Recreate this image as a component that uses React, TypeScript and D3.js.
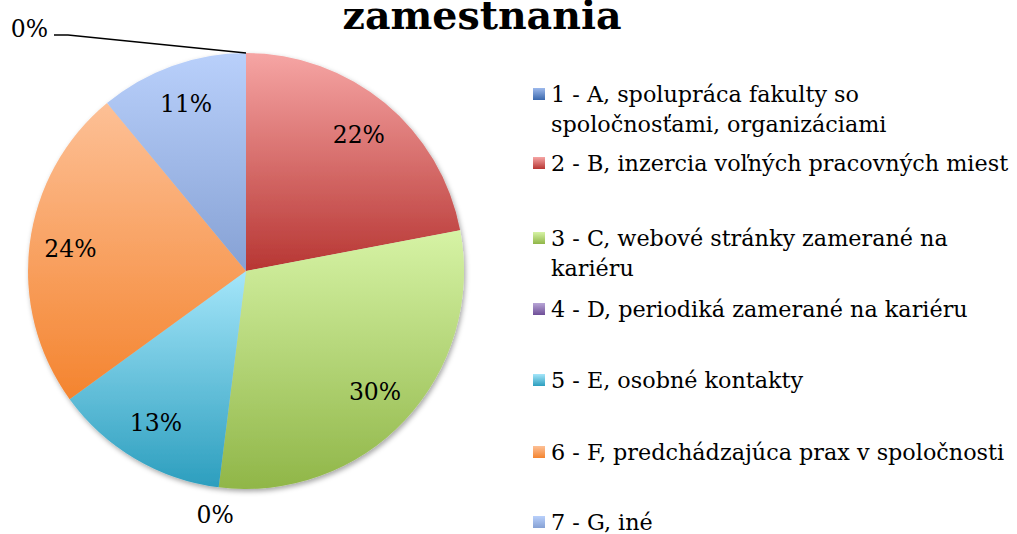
import React from "react";
import * as d3 from "d3";

// ---- data ----
const categories = [
  "1 - A, spolupráca fakulty so|spoločnosťami, organizáciami",
  "2 - B, inzercia voľných pracovných miest",
  "3 - C, webové stránky zamerané na|kariéru",
  "4 - D, periodiká zamerané na kariéru",
  "5 - E, osobné kontakty",
  "6 - F, predchádzajúca prax v spoločnosti",
  "7 - G, iné",
];
const values = [0, 22, 30, 0, 13, 24, 11];
const titleText = "zamestnania";

// ---- styles ----
const gradTop = ["#9DB9EC", "#F6A5A4", "#D6F3A5", "#B8A5D6", "#A5E6FA", "#FDC096", "#B9D0FB"];
const gradBottom = ["#3A68AD", "#B73633", "#90B648", "#6E4E97", "#2C9EBE", "#F4842F", "#86A1D4"];
const FONT = "'DejaVu Serif', serif";

const W = 1017, H = 534;
const cx = 246, cy = 271, R = 218;
const labelR = 177;
const legendX = 533;
const legendBaselines = [102, 171, 246, 317, 388, 460, 530];
const lineGap = 30;

export default function App() {
  const pie = d3.pie<number>().sort(null).value((d) => d).startAngle(0).endAngle(2 * Math.PI);
  const arcs = pie(values);
  const arc = d3.arc<d3.PieArcDatum<number>>().innerRadius(0).outerRadius(R);
  const labelArc = d3.arc<d3.PieArcDatum<number>>().innerRadius(labelR).outerRadius(labelR);
  const outerArc = d3.arc<d3.PieArcDatum<number>>().innerRadius(R + 28).outerRadius(R + 28);
  const total = d3.sum(values);
  const fmt = (v: number) => `${Math.round((v / total) * 100)}%`;

  return (
    <svg width={W} height={H} style={{ position: "absolute", left: 0, top: 0, background: "#fff" }}>
      <defs>
        {values.map((_, i) => (
          <linearGradient key={i} id={`g${i}`} x1="0" y1="0" x2="0" y2="1">
            <stop offset="0" stopColor={gradTop[i]} />
            <stop offset="1" stopColor={gradBottom[i]} />
          </linearGradient>
        ))}
        <filter id="shadow" x="-20%" y="-20%" width="140%" height="140%">
          <feDropShadow dx="1.5" dy="2.5" stdDeviation="2.5" floodColor="#000" floodOpacity="0.35" />
        </filter>
      </defs>

      <text x={482} y={29} textAnchor="middle" fontFamily={FONT} fontWeight="bold" fontSize={39.5} fill="#000">
        {titleText}
      </text>

      <g transform={`translate(${cx},${cy})`}>
        <g filter="url(#shadow)">
          {arcs.map((a, i) =>
            a.value > 0 ? <path key={i} d={arc(a) as string} fill={`url(#g${i})`} /> : null
          )}
        </g>
        {arcs.map((a, i) => {
          if (a.value > 0) {
            const [x, y] = labelArc.centroid(a);
            return (
              <text key={i} x={x} y={y + 8} textAnchor="middle" fontFamily={FONT} fontSize={23.5} fill="#000">
                {fmt(a.value)}
              </text>
            );
          }
          return null;
        })}
        {arcs.map((a, i) => {
          if (a.value > 0) return null;
          const ang = a.startAngle;
          const px = R * Math.sin(ang), py = -R * Math.cos(ang);
          if (i === 0) {
            const bx = px - 178, by = py - 18;
            return (
              <g key={i}>
                <path d={`M${px},${py}L${bx},${by}L${bx - 14},${by}`} fill="none" stroke="#000" strokeWidth={1.5} />
                <text x={bx - 20} y={by + 2} textAnchor="end" fontFamily={FONT} fontSize={23.5} fill="#000">
                  {fmt(a.value)}
                </text>
              </g>
            );
          }
          const [x, y] = outerArc.centroid({ ...a, endAngle: a.startAngle });
          return (
            <text key={i} x={x} y={y + 8} textAnchor="middle" fontFamily={FONT} fontSize={23.5} fill="#000">
              {fmt(a.value)}
            </text>
          );
        })}
      </g>

      <g>
        {categories.map((c, i) => {
          const lines = c.split("|");
          const b = legendBaselines[i];
          return (
            <g key={i}>
              <rect x={legendX} y={b - 14} width={12} height={12} fill={`url(#g${i})`} />
              <text fontFamily={FONT} fontSize={22.3} fill="#000">
                {lines.map((l, j) => (
                  <tspan key={j} x={legendX + 18} y={b + j * lineGap}>
                    {l}
                  </tspan>
                ))}
              </text>
            </g>
          );
        })}
      </g>
    </svg>
  );
}
